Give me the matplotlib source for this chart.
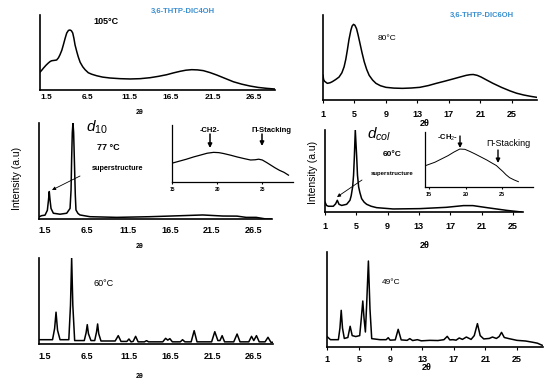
import matplotlib
matplotlib.use("Agg")
import matplotlib.pyplot as plt
import numpy as np

W, H = 550, 380

# --- data (2theta, normalised intensity) ---
# 3,6-THTP-DIC4OH
dic4_105c = [(0.8, 0.24), (1.0, 0.265), (1.18, 0.29), (1.5, 0.33), (1.78, 0.36),
             (2.0, 0.38), (2.18, 0.39), (2.5, 0.395), (2.78, 0.40), (3.0, 0.43),
             (3.18, 0.47), (3.4, 0.53), (3.58, 0.60), (3.8, 0.69), (3.99, 0.76),
             (4.2, 0.795), (4.38, 0.80), (4.55, 0.79), (4.71, 0.76), (4.85, 0.69),
             (4.99, 0.60), (5.2, 0.51), (5.38, 0.44), (5.6, 0.37), (5.91, 0.31),
             (6.2, 0.27), (6.58, 0.23), (7.0, 0.21), (7.59, 0.19), (8.3, 0.172),
             (9.19, 0.16), (10.4, 0.151), (11.6, 0.147), (12.8, 0.151), (14.0, 0.164),
             (15.0, 0.182), (16.0, 0.204), (16.8, 0.228), (17.6, 0.249), (18.3, 0.264),
             (19.0, 0.271), (19.7, 0.268), (20.4, 0.258), (21.2, 0.232), (22.0, 0.20),
             (23.0, 0.155), (24.0, 0.11), (25.0, 0.078), (26.0, 0.053), (27.0, 0.034),
             (28.0, 0.022), (29.0, 0.013)]
dic4_77c = [(0.82, 0.024), (1.1, 0.035), (1.5, 0.04), (1.78, 0.09), (1.92, 0.2),
            (2.01, 0.286), (2.1, 0.2), (2.22, 0.11), (2.5, 0.06), (3.3, 0.05),
            (4.1, 0.06), (4.5, 0.11), (4.62, 0.3), (4.69, 0.62), (4.77, 0.9),
            (4.85, 1.0), (4.93, 0.9), (5.05, 0.51), (5.13, 0.25), (5.21, 0.094),
            (5.45, 0.058), (5.69, 0.042), (6.88, 0.024), (10.1, 0.017), (14.1, 0.024),
            (18.0, 0.035), (20.4, 0.042), (22.8, 0.031), (24.5, 0.03), (25.6, 0.017),
            (26.8, 0.017), (28.0, 0.0), (28.6, 0.0)]
dic4_77c_inset = [(15.0, 0.33), (15.8, 0.365), (16.6, 0.40), (17.4, 0.44), (18.1, 0.47),
                  (18.9, 0.505), (19.6, 0.52), (20.2, 0.515), (20.7, 0.50), (21.5, 0.47),
                  (22.2, 0.44), (23.0, 0.41), (23.7, 0.386), (24.2, 0.39), (24.6, 0.40),
                  (25.0, 0.386), (25.5, 0.34), (25.9, 0.30), (26.4, 0.25), (26.9, 0.205),
                  (27.4, 0.17), (27.9, 0.12)]
dic4_60c = [(0.8, 0.05), (2.4, 0.05), (2.65, 0.18), (2.82, 0.37), (3.0, 0.16), (3.3, 0.05),
            (4.35, 0.05), (4.55, 0.45), (4.69, 1.0), (4.83, 0.45), (5.05, 0.04),
            (6.2, 0.04), (6.42, 0.13), (6.56, 0.225), (6.7, 0.12), (7.0, 0.04),
            (7.45, 0.04), (7.67, 0.14), (7.8, 0.233), (7.93, 0.12), (8.2, 0.035),
            (9.9, 0.035), (10.27, 0.097), (10.6, 0.03), (11.3, 0.03), (11.55, 0.058),
            (11.8, 0.025), (12.05, 0.03), (12.35, 0.089), (12.65, 0.025), (13.4, 0.025),
            (13.66, 0.039), (13.9, 0.025), (15.6, 0.025), (15.94, 0.066), (16.2, 0.045),
            (16.45, 0.062), (16.75, 0.025), (17.7, 0.025), (17.97, 0.05), (18.25, 0.025),
            (19.0, 0.025), (19.36, 0.155), (19.7, 0.025), (21.45, 0.025), (21.83, 0.143),
            (22.2, 0.04), (22.45, 0.04), (22.71, 0.097), (23.0, 0.025), (24.1, 0.025),
            (24.5, 0.116), (24.85, 0.025), (25.9, 0.025), (26.23, 0.089), (26.5, 0.04),
            (26.82, 0.097), (27.15, 0.025), (27.85, 0.025), (28.2, 0.078), (28.55, 0.02),
            (28.8, 0.02)]

# 3,6-THTP-DIC6OH
dic6_80c = [(1.0, 0.29), (1.08, 0.24), (1.2, 0.22), (1.55, 0.196), (1.9, 0.203),
            (2.19, 0.216), (2.6, 0.24), (3.04, 0.27), (3.4, 0.32), (3.68, 0.39),
            (3.9, 0.48), (4.1, 0.59), (4.3, 0.71), (4.54, 0.82), (4.7, 0.87),
            (4.88, 0.89), (5.05, 0.88), (5.26, 0.84), (5.45, 0.77), (5.69, 0.67),
            (5.95, 0.56), (6.24, 0.45), (6.55, 0.36), (6.87, 0.29), (7.3, 0.235),
            (7.73, 0.196), (8.3, 0.168), (9.0, 0.149), (10.0, 0.14), (11.1, 0.137),
            (12.2, 0.141), (13.3, 0.149), (14.4, 0.17), (15.4, 0.196), (16.5, 0.222),
            (17.5, 0.247), (18.4, 0.27), (19.2, 0.29), (19.7, 0.298), (20.1, 0.30),
            (20.6, 0.29), (21.1, 0.27), (21.8, 0.235), (22.6, 0.196), (23.7, 0.148),
            (24.8, 0.106), (25.6, 0.08), (26.5, 0.059), (27.4, 0.043), (28.2, 0.031)]
dic6_60c = [(1.0, 0.12), (1.2, 0.08), (1.43, 0.07), (2.06, 0.07), (2.36, 0.10),
            (2.57, 0.143), (2.79, 0.094), (3.13, 0.08), (3.77, 0.094), (4.19, 0.143),
            (4.35, 0.2), (4.53, 0.306), (4.65, 0.45), (4.75, 0.67), (4.87, 1.0),
            (5.05, 0.67), (5.15, 0.45), (5.3, 0.306), (5.45, 0.24), (5.68, 0.163),
            (6.0, 0.12), (6.32, 0.094), (6.9, 0.07), (7.6, 0.053), (9.7, 0.037),
            (13.1, 0.041), (16.5, 0.057), (18.7, 0.078), (19.9, 0.078), (21.7, 0.053),
            (24.2, 0.02), (26.1, 0.0)]
dic6_60c_inset = [(14.55, 0.39), (15.8, 0.45), (16.7, 0.51), (17.6, 0.57), (18.4, 0.635),
                  (19.2, 0.69), (19.9, 0.685), (20.6, 0.645), (21.3, 0.60), (22.1, 0.545),
                  (22.9, 0.49), (23.6, 0.435), (24.2, 0.39), (24.6, 0.34), (25.1, 0.28),
                  (25.5, 0.225), (26.0, 0.17), (26.6, 0.13), (27.2, 0.097)]
dic6_49c = [(0.96, 0.11), (1.4, 0.077), (2.4, 0.077), (2.6, 0.2), (2.76, 0.386),
            (2.92, 0.2), (3.15, 0.09), (3.6, 0.1), (3.89, 0.218), (4.15, 0.12),
            (4.6, 0.11), (5.1, 0.12), (5.3, 0.3), (5.49, 0.484), (5.65, 0.3),
            (5.82, 0.158), (5.98, 0.45), (6.2, 0.905), (6.4, 0.4), (6.62, 0.088),
            (7.67, 0.077), (8.45, 0.077), (8.71, 0.098), (8.95, 0.072), (9.6, 0.075),
            (9.97, 0.186), (10.35, 0.075), (11.1, 0.07), (11.44, 0.088), (11.8, 0.068),
            (12.4, 0.077), (12.9, 0.065), (13.96, 0.07), (15.0, 0.068), (15.76, 0.077),
            (16.18, 0.112), (16.5, 0.075), (16.9, 0.077), (17.3, 0.072), (17.7, 0.095),
            (18.1, 0.08), (18.6, 0.105), (19.2, 0.08), (19.6, 0.12), (20.0, 0.246),
            (20.35, 0.12), (20.8, 0.085), (21.5, 0.09), (21.9, 0.105), (22.4, 0.09),
            (22.75, 0.11), (23.05, 0.154), (23.4, 0.1), (24.0, 0.088), (25.0, 0.07),
            (26.1, 0.063), (27.0, 0.05), (27.6, 0.04), (28.2, 0.018)]

TICKS_DIC4 = [1.5, 6.5, 11.5, 16.5, 21.5, 26.5]
TICKS_DIC6 = [1, 5, 9, 13, 17, 21, 25]
TICKS_INSET = [15, 20, 25]

FONT = "Liberation Sans"
BLUE = "#3a8fd0"


def box(l, t, r, b):
    return [l / W, 1 - b / H, (r - l) / W, (b - t) / H]


def panel(fig, rect, data, xlim, ticks, tick_fs, pad, tlen=0.0, lw=1.1, spine_lw=1.2):
    ax = fig.add_axes(rect)
    x, y = np.array(data).T
    ax.plot(x, y, color="black", lw=lw, solid_joinstyle="round")
    ax.set_xlim(*xlim)
    ax.set_ylim(0, 1)
    ax.set_yticks([])
    ax.set_xticks(ticks)
    ax.set_xticklabels([f"{t:g}" for t in ticks], fontsize=tick_fs, fontweight="bold",
                       family=FONT)
    ax.tick_params(axis="x", length=tlen, width=0.8, pad=pad)
    for s in ("top", "right"):
        ax.spines[s].set_visible(False)
    for s in ("left", "bottom"):
        ax.spines[s].set_linewidth(spine_lw)
    ax.patch.set_alpha(0)
    return ax


def main():
    plt.rcParams.update({
        "font.family": FONT,
        "mathtext.fontset": "custom",
        "mathtext.rm": FONT,
        "mathtext.it": FONT + ":italic",
    })
    fig = plt.figure(figsize=(W / 100, H / 100), dpi=100)

    # main panels
    panel(fig, box(40, 15, 275, 90), dic4_105c, (0.78, 29.0), TICKS_DIC4, 6, 3)
    panel(fig, box(323, 15, 537, 100), dic6_80c, (1.0, 28.2), TICKS_DIC6, 6.5, 5, tlen=2.5)
    panel(fig, box(39, 123, 272, 219), dic4_77c, (0.78, 28.7), TICKS_DIC4, 6.5, 5)
    panel(fig, box(325, 130, 523, 212), dic6_60c, (1.0, 26.3), TICKS_DIC6, 6.5, 5, tlen=2.5)
    panel(fig, box(39, 258, 273, 344), dic4_60c, (0.78, 28.8), TICKS_DIC4, 6.5, 6)
    panel(fig, box(327, 252, 543, 347), dic6_49c, (0.96, 28.3), TICKS_DIC6, 6.5, 3, tlen=2.5)

    # insets
    panel(fig, box(172, 125, 293, 182), dic4_77c_inset, (15, 28.4), TICKS_INSET, 3.5, 2,
          tlen=1.5, lw=0.9, spine_lw=0.9)
    panel(fig, box(425, 132, 533, 187), dic6_60c_inset, (14.45, 29.2), TICKS_INSET, 4, 2,
          tlen=1.5, lw=0.7, spine_lw=0.9)

    # overlay in image pixel coordinates for labels and arrows
    ov = fig.add_axes([0, 0, 1, 1], zorder=10)
    ov.set_xlim(0, W)
    ov.set_ylim(H, 0)
    ov.axis("off")

    def txt(x, y, s, **kw):
        kw.setdefault("ha", "center")
        kw.setdefault("va", "center")
        ov.text(x, y, s, **kw)

    def arrow(x0, y0, x1, y1, lw=0.6, ms=5):
        ov.annotate("", xy=(x1, y1), xytext=(x0, y0),
                    arrowprops=dict(arrowstyle="-|>", lw=lw, color="black",
                                    mutation_scale=ms, shrinkA=0, shrinkB=0))

    # titles
    txt(183, 11, "3,6-THTP-DIC4OH", color=BLUE, fontsize=5.5, fontweight="bold")
    txt(482, 15, "3,6-THTP-DIC6OH", color=BLUE, fontsize=5.5, fontweight="bold")

    # temperature labels
    txt(106, 22, "105°C", fontsize=6.5, fontweight="bold")
    txt(387, 38, "80°C", fontsize=6)
    txt(108, 148, "77 °C", fontsize=6.5, fontweight="bold")
    txt(392, 155, "60°C", fontsize=6, fontweight="bold")
    txt(104, 283, "60°C", fontsize=6.5)
    txt(391, 283, "49°C", fontsize=6)

    # x labels
    for x, y, fs in ((140, 112, 5), (425, 124, 6.5), (140, 247, 5),
                     (425, 245, 6.5), (140, 376, 5), (427, 368, 6.5)):
        txt(x, y, "2θ", fontsize=fs, fontweight="bold")

    # y labels
    txt(17, 178, "Intensity (a.u)", fontsize=7.5, rotation=90)
    txt(313, 172, "Intensity (a.u)", fontsize=7.5, rotation=90)

    # d-spacing labels
    txt(97, 127, "$d_{10}$", fontsize=11)
    txt(379, 134, "$d_{col}$", fontsize=11)

    # superstructure
    txt(118, 169, "superstructure", fontsize=5.2, fontweight="bold")
    arrow(80, 176, 52, 190)
    txt(392, 173, "superstructure", fontsize=4.3, fontweight="bold")
    arrow(362, 180, 337, 197)

    # inset annotations
    txt(210, 130, "-CH2-", fontsize=5.5, fontweight="bold")
    arrow(210, 134, 210, 148, lw=1.1, ms=6)
    txt(272, 130, "Π-Stacking", fontsize=5.5, fontweight="bold")
    arrow(262, 134, 262, 146, lw=1.1, ms=6)
    txt(448, 138, "-CH$_2$-", fontsize=5.5, fontweight="bold")
    arrow(460, 136, 460, 148, lw=1.0, ms=6)
    txt(508, 143, "Π-Stacking", fontsize=6.5)
    arrow(498, 150, 498, 163, lw=1.0, ms=6)

    fig.savefig("out.png", dpi=100)
    plt.close(fig)


if __name__ == "__main__":
    main()
